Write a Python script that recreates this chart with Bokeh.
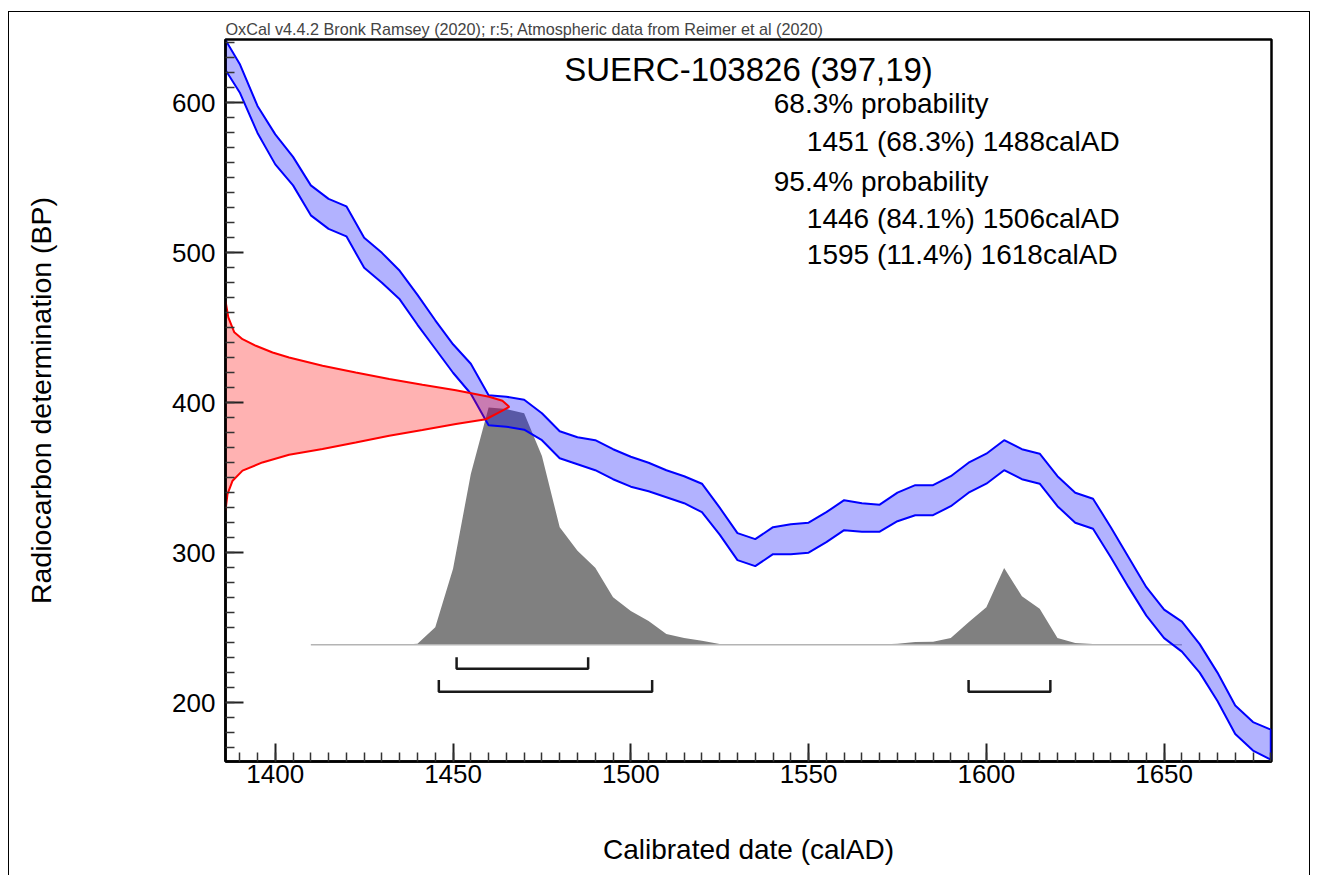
from bokeh.plotting import figure
from bokeh.models import Label, SingleIntervalTicker, Range1d
from bokeh.embed import file_html
from bokeh.resources import INLINE

FONT = "Liberation Sans"

# ---- data ----
# IntCal20 calibration band (upper / lower edge, BP)
curve_years = [1386, 1390, 1395, 1400, 1405, 1410, 1415, 1420, 1425, 1430,
               1435, 1440, 1445, 1450, 1455, 1460, 1465, 1470, 1475, 1480,
               1485, 1490, 1495, 1500, 1505, 1510, 1515, 1520, 1525, 1530,
               1535, 1540, 1545, 1550, 1555, 1560, 1565, 1570, 1575, 1580,
               1585, 1590, 1595, 1600, 1605, 1610, 1615, 1620, 1625, 1630,
               1635, 1640, 1645, 1650, 1655, 1660, 1665, 1670, 1675, 1680]
curve_hi = [642, 626, 598, 579, 564, 545, 536, 531, 510, 500,
            488, 472, 455, 439, 426, 405, 404, 402, 393, 381,
            377, 375, 369, 364, 360, 355, 351, 346, 330, 313,
            309, 317, 319, 320, 327, 335, 333, 332, 340, 345,
            345, 351, 360, 366, 375, 369, 366, 351, 340, 336,
            317, 297, 277, 262, 254, 239, 220, 198, 187, 182]
curve_lo = [622, 607, 580, 559, 545, 525, 516, 511, 490, 480,
            469, 452, 436, 420, 406, 385, 384, 382, 375, 363,
            359, 355, 349, 344, 341, 337, 333, 327, 312, 295,
            291, 299, 299, 300, 307, 315, 314, 314, 321, 325,
            325, 331, 340, 346, 355, 349, 346, 331, 320, 316,
            297, 277, 258, 243, 234, 220, 201, 179, 168, 162]

# calibrated probability distribution (relative)
dist_years = [1410, 1415, 1420, 1425, 1430, 1435, 1440, 1445, 1450, 1455,
              1460, 1465, 1470, 1475, 1480, 1485, 1490, 1495, 1500, 1505,
              1510, 1515, 1520, 1525, 1530, 1535, 1540, 1545, 1550, 1555,
              1560, 1565, 1570, 1575, 1580, 1585, 1590, 1595, 1600, 1605,
              1610, 1615, 1620, 1625, 1630, 1635, 1640, 1645, 1650, 1655]
dist_prob = [0.0, 0.0, 0.0, 0.0, 0.0, 0.001, 0.005, 0.074, 0.32, 0.72,
             1.0, 0.993, 0.975, 0.795, 0.495, 0.396, 0.325, 0.2, 0.143, 0.101,
             0.046, 0.029, 0.017, 0.004, 0.001, 0.0, 0.0, 0.0, 0.0, 0.001,
             0.002, 0.002, 0.002, 0.005, 0.012, 0.013, 0.029, 0.095, 0.158, 0.324,
             0.205, 0.152, 0.029, 0.008, 0.004, 0.001, 0.0, 0.0, 0.0, 0.0]

# radiocarbon determination 397 +/- 19 BP (relative)
meas_bp = [468, 457, 447, 442.4, 438, 433.5, 430.2, 424.7, 420.2, 415.8,
           412, 408.4, 404, 401.3, 397.3, 394.7, 389, 385.8, 381.8, 378,
           373.5, 369.1, 365.3, 360.2, 354.7, 348, 339, 328]
meas_prob = [0.0, 0.01, 0.031, 0.06, 0.107, 0.166, 0.224, 0.342, 0.459, 0.577,
             0.694, 0.812, 0.929, 0.976, 1.0, 0.976, 0.918, 0.812, 0.694, 0.577,
             0.459, 0.342, 0.224, 0.13, 0.06, 0.025, 0.007, 0.0]

range_68 = [(1451, 1488)]
range_95 = [(1446, 1506), (1595, 1618)]

header = "OxCal v4.4.2 Bronk Ramsey (2020); r:5; Atmospheric data from Reimer et al (2020)"
sample_title = "SUERC-103826 (397,19)"
summary_lines = ["68.3% probability",
                 "1451 (68.3%) 1488calAD",
                 "95.4% probability",
                 "1446 (84.1%) 1506calAD",
                 "1595 (11.4%) 1618calAD"]
summary_indent = [False, True, False, True, True]

x_label = "Calibrated date (calAD)"
y_label = "Radiocarbon determination (BP)"

# ---- layout / style constants ----
X0, X1 = 1386, 1680.2
Y0, Y1 = 160.7, 642.3
DIST_BASE = 238.5
DIST_SCALE = 158.4
MEAS_SCALE = 79.8
BR68_LEVEL, BR95_LEVEL, BR_TICK = 222.5, 207.3, 7.7

p = figure(width=1302, height=864, output_backend="svg", toolbar_location=None,
           x_range=Range1d(X0, X1), y_range=Range1d(Y0, Y1),
           min_border_left=216, min_border_right=40, min_border_top=27,
           min_border_bottom=115, title=header)
p.styles = {"margin-left": "8px", "margin-top": "11px",
            "border-left": "1px solid black", "border-top": "1px solid black",
            "border-right": "1px solid black"}

p.title.text_font = FONT
p.title.text_font_size = "16.2px"
p.title.text_font_style = "normal"
p.title.standoff = 3
p.title.offset = 0

p.grid.visible = False
p.outline_line_color = "black"
p.outline_line_width = 2.5
p.background_fill_color = "white"
p.border_fill_color = "white"

p.xaxis.ticker = SingleIntervalTicker(interval=50, num_minor_ticks=10)
p.yaxis.ticker = SingleIntervalTicker(interval=100, num_minor_ticks=10)
for ax in (p.xaxis[0], p.yaxis[0]):
    ax.axis_line_width = 2.5
    ax.axis_line_color = "black"
    ax.major_tick_in = 18
    ax.major_tick_out = 0
    ax.minor_tick_in = 9
    ax.minor_tick_out = 0
    ax.major_tick_line_width = 2
    ax.minor_tick_line_width = 1.5
    ax.major_tick_line_color = "#222222"
    ax.minor_tick_line_color = "#333333"
    ax.major_label_text_font = FONT
    ax.major_label_text_font_size = "26px"
    ax.major_label_text_color = "black"
    ax.axis_label_text_font = FONT
    ax.axis_label_text_font_style = "normal"
    ax.axis_label_text_color = "black"
p.xaxis.axis_label_text_font_size = "28px"
p.yaxis.axis_label_text_font_size = "28.5px"
p.xaxis.axis_label = x_label
p.yaxis.axis_label = y_label
p.xaxis.major_label_standoff = 3
p.yaxis.major_label_standoff = 10
p.xaxis.axis_label_standoff = 48
p.yaxis.axis_label_standoff = 112

# calibrated distribution
dx = [dist_years[0]] + dist_years + [dist_years[-1]]
dy = [DIST_BASE] + [DIST_BASE + v * DIST_SCALE for v in dist_prob] + [DIST_BASE]
p.patch(dx, dy, fill_color="#808080", line_color=None)
p.line([dist_years[0], dist_years[-1]], [DIST_BASE, DIST_BASE],
       line_color="#b4b4b4", line_width=1.5)

# calibration curve band
bx = curve_years + curve_years[::-1]
by = curve_hi + curve_lo[::-1]
p.patch(bx, by, fill_color="#0000ff", fill_alpha=0.3, line_color="#0000ff", line_width=2)

# measurement distribution
mx = [X0 + v * MEAS_SCALE for v in meas_prob]
p.patch([X0] + mx + [X0], [meas_bp[0]] + meas_bp + [meas_bp[-1]],
        fill_color="#ff0000", fill_alpha=0.3, line_color=None)
p.line(mx, meas_bp, line_color="#ff0000", line_width=2)

# range brackets
for lvl, rngs in ((BR68_LEVEL, range_68), (BR95_LEVEL, range_95)):
    for a, b in rngs:
        p.line([a, a, b, b], [lvl + BR_TICK, lvl, lvl, lvl + BR_TICK],
               line_color="#1a1a1a", line_width=2.5)

# texts
p.add_layout(Label(x=(X0 + X1) / 2, y=622.0, text=sample_title, text_align="center",
                   text_baseline="alphabetic", text_font=FONT, text_font_size="33px",
                   text_color="black"))
line_y = [599.5, 574.0, 547.9, 522.9, 498.9]
for txt, ind, yy in zip(summary_lines, summary_indent, line_y):
    p.add_layout(Label(x=1549.5 if ind else 1540.2, y=yy, text=txt, text_align="left",
                       text_baseline="alphabetic", text_font=FONT, text_font_size="28px",
                       text_color="black"))

open("out.html", "w").write(file_html(p, INLINE))
